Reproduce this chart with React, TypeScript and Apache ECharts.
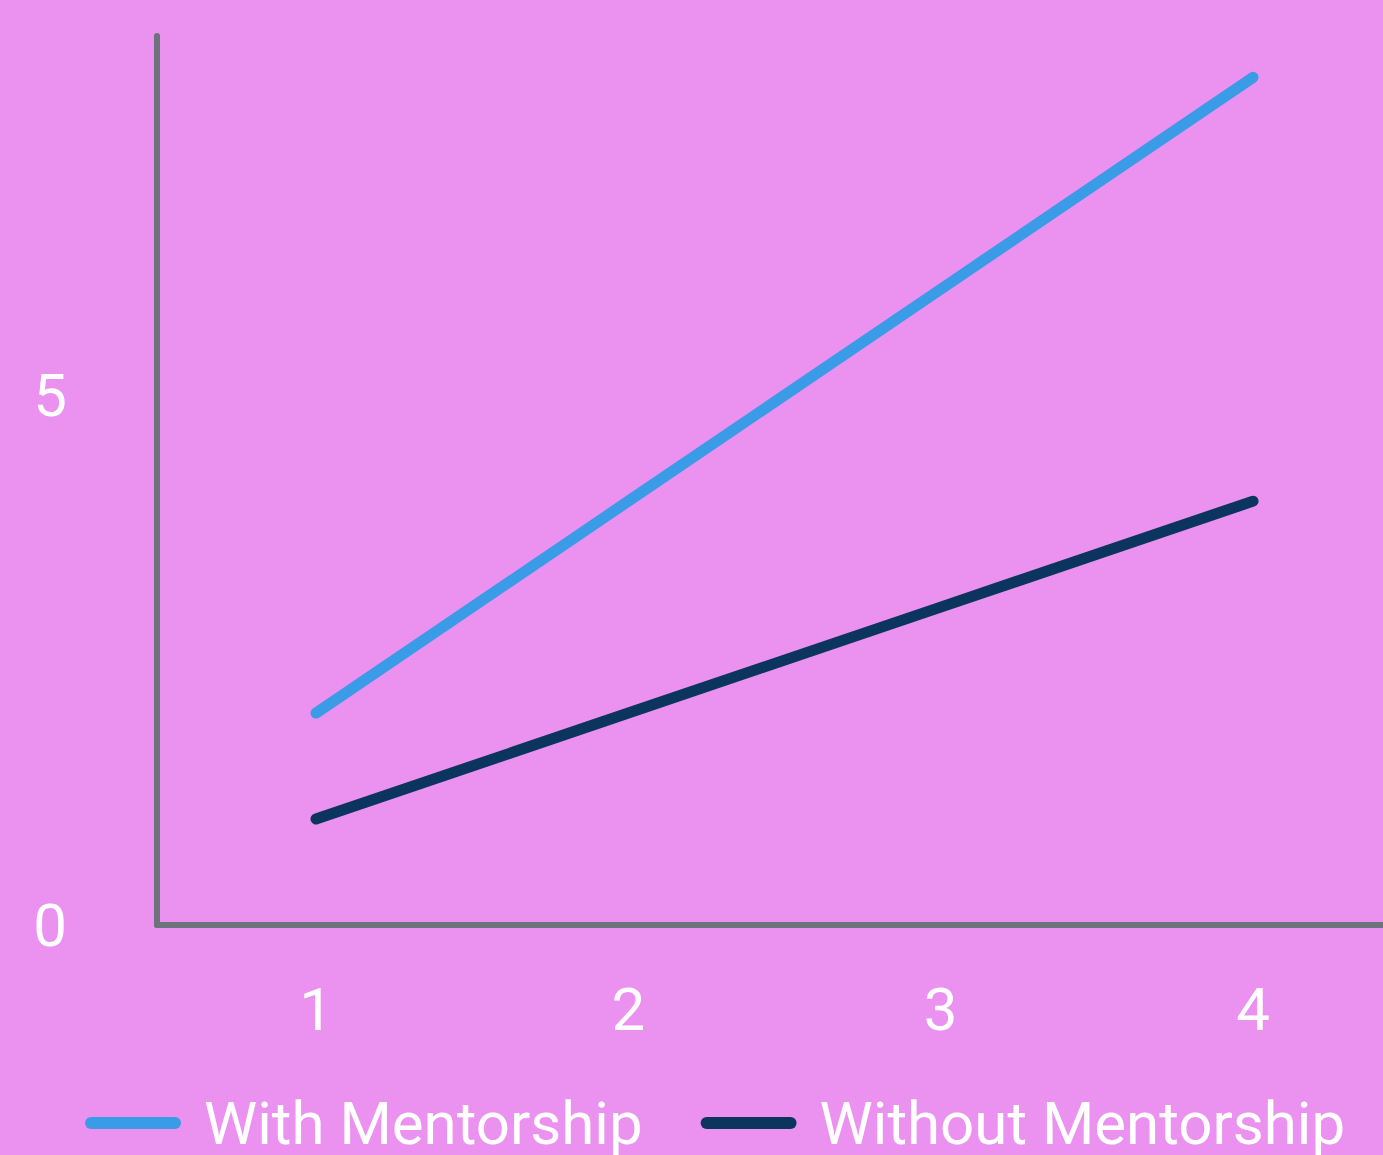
import React, { useEffect, useRef } from "react";
import * as echarts from "echarts";

const xValues = [1, 2, 3, 4];
const withMentorship = [2, 4, 6, 8];
const withoutMentorship = [1, 2, 3, 4];
const seriesNames = ["With Mentorship", "Without Mentorship"];
const xTickLabels = [1, 2, 3, 4];
const yTickLabels = [0, 5];

const FONT = "Roboto";
const legendIcon = "path://M6,0 H90 A6,6 0 0 1 90,12 H6 A6,6 0 0 1 6,0 Z";

export default function App() {
  const ref = useRef<HTMLDivElement>(null);
  useEffect(() => {
    document.body.style.margin = "0";
    const chart = echarts.init(ref.current!, null, { renderer: "svg" });
    chart.setOption({
      animation: false,
      backgroundColor: "#EB92F0",
      grid: { left: 157, right: 0, top: 36, bottom: 230, containLabel: false },
      xAxis: {
        type: "value",
        min: 0.491,
        max: 4.416,
        axisLine: { show: true, lineStyle: { color: "#6D737B", width: 6 } },
        axisTick: { show: false },
        splitLine: { show: false },
        axisLabel: {
          customValues: xTickLabels,
          color: "#FFFFFF",
          fontFamily: FONT,
          fontSize: 60,
          margin: 54,
        },
      },
      yAxis: {
        type: "value",
        min: 0,
        max: 8.39,
        axisLine: { show: true, lineStyle: { color: "#6D737B", width: 6 } },
        axisTick: { show: false },
        splitLine: { show: false },
        axisLabel: {
          customValues: yTickLabels,
          color: "#FFFFFF",
          fontFamily: FONT,
          fontSize: 60,
          margin: 90,
          align: "right",
        },
      },
      legend: {
        left: 80,
        top: 1088,
        itemWidth: 96,
        itemHeight: 12,
        itemGap: 58,
        icon: legendIcon,
        textStyle: {
          color: "#FFFFFF",
          fontFamily: FONT,
          fontSize: 60,
          padding: [0, 0, 0, 18],
        },
        data: seriesNames,
      },
      series: [
        {
          name: seriesNames[0],
          type: "line",
          data: xValues.map((x, i) => [x, withMentorship[i]]),
          showSymbol: false,
          symbol: "none",
          color: "#3A9BE6",
          lineStyle: { width: 11, cap: "round", join: "round", color: "#3A9BE6" },
        },
        {
          name: seriesNames[1],
          type: "line",
          data: xValues.map((x, i) => [x, withoutMentorship[i]]),
          showSymbol: false,
          symbol: "none",
          color: "#0B355E",
          lineStyle: { width: 11, cap: "round", join: "round", color: "#0B355E" },
        },
      ],
    });
    return () => chart.dispose();
  }, []);
  return <div ref={ref} style={{ width: 1383, height: 1155 }} />;
}
